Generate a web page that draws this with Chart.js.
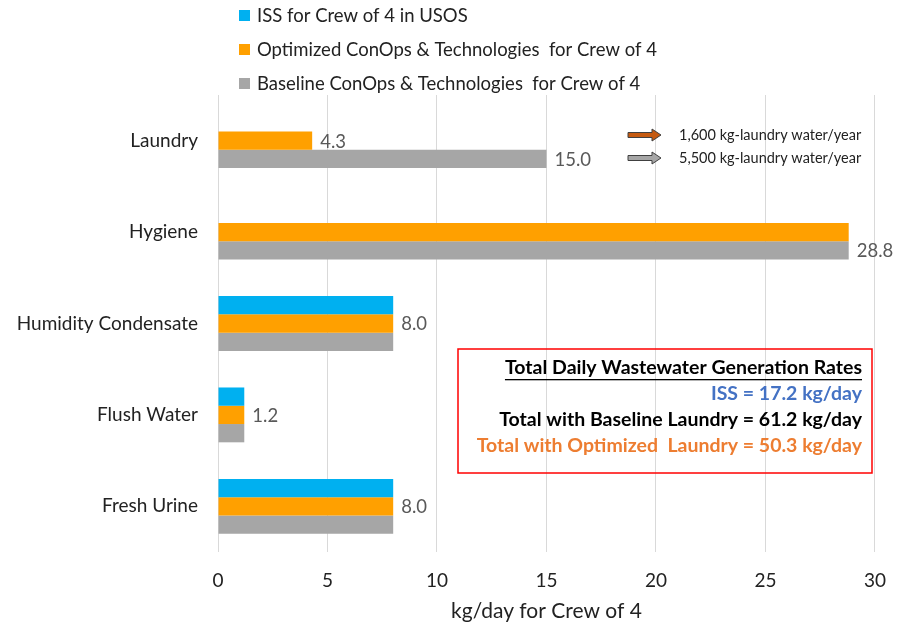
<!DOCTYPE html>
<html>
<head>
<meta charset="utf-8">
<script src="https://cdn.jsdelivr.net/npm/chart.js@4.4.0/dist/chart.umd.min.js"></script>
<style>
  body { margin: 0; background: #fff; }
  #wrap { width: 903px; height: 628px; position: relative; }
</style>
</head>
<body>
<div id="wrap"><canvas id="myChart"></canvas></div>
<script>
var categories = ['Laundry', 'Hygiene', 'Humidity Condensate', 'Flush Water', 'Fresh Urine'];
var issValues = [null, null, 8.0, 1.2, 8.0];
var optimizedValues = [4.3, 28.8, 8.0, 1.2, 8.0];
var baselineValues = [15.0, 28.8, 8.0, 1.2, 8.0];
var seriesNames = ['ISS for Crew of 4 in USOS', 'Optimized ConOps & Technologies  for Crew of 4', 'Baseline ConOps & Technologies  for Crew of 4'];
var xTicks = [0, 5, 10, 15, 20, 25, 30];
// which bars get a value label: [dataset index, category index]
var labelled = [[1, 0], [2, 0], [2, 1], [1, 2], [1, 3], [1, 4]];
var arrowNotes = ['1,600 kg-laundry water/year', '5,500 kg-laundry water/year'];
var totals = ['Total Daily Wastewater Generation Rates', 'ISS = 17.2 kg/day', 'Total with Baseline Laundry = 61.2 kg/day', 'Total with Optimized  Laundry = 50.3 kg/day'];

var font = 'Lato, "Open Sans", sans-serif';

var extras = {
  id: 'extras',
  afterDraw: function(chart) {
    var c = chart.ctx;
    c.save();
    // legend
    c.font = '18.5px ' + font;
    c.textBaseline = 'middle';
    c.textAlign = 'left';
    chart.data.datasets.forEach(function(ds, i) {
      var y = 16 + i * 34;
      c.fillStyle = ds.backgroundColor;
      c.fillRect(239, y - 6, 11, 11);
      c.fillStyle = '#222';
      c.fillText(ds.label, 257, y);
    });
    // value labels
    c.fillStyle = '#595959';
    c.font = '18.5px ' + font;
    labelled.forEach(function(p) {
      var el = chart.getDatasetMeta(p[0]).data[p[1]];
      var v = chart.data.datasets[p[0]].data[p[1]];
      c.fillText(v.toFixed(1), el.x + 8, el.y + 1);
    });
    // arrows
    var arrowCols = ['#c55a11', '#a6a6a6'];
    arrowNotes.forEach(function(t, i) {
      var y = 135 + i * 23;
      c.beginPath();
      c.moveTo(628, y - 2.5); c.lineTo(652, y - 2.5); c.lineTo(652, y - 6);
      c.lineTo(661, y); c.lineTo(652, y + 6); c.lineTo(652, y + 2.5);
      c.lineTo(628, y + 2.5); c.closePath();
      c.fillStyle = arrowCols[i];
      c.fill();
      c.strokeStyle = '#404040';
      c.lineWidth = 1;
      c.stroke();
      c.fillStyle = '#222';
      c.font = '14.5px ' + font;
      c.textAlign = 'left';
      c.fillText(t, 679, y);
    });
    // totals box
    c.strokeStyle = '#ff0000';
    c.lineWidth = 1.5;
    c.strokeRect(458, 349, 414, 124);
    var cols = ['#000', '#4472c4', '#000', '#ed7d31'];
    c.textAlign = 'right';
    c.font = 'bold 19.5px ' + font;
    totals.forEach(function(t, i) {
      var y = 368 + i * 26;
      c.fillStyle = cols[i];
      c.fillText(t, 862, y);
      if (i === 0) {
        var w = c.measureText(t).width;
        c.fillRect(862 - w, y + 11, w, 1.3);
      }
    });
    c.restore();
  }
};

var config = {
  type: 'bar',
  data: {
    labels: categories,
    datasets: [
      { label: seriesNames[0], data: issValues, backgroundColor: '#00b0f0' },
      { label: seriesNames[1], data: optimizedValues, backgroundColor: '#ffa000' },
      { label: seriesNames[2], data: baselineValues, backgroundColor: '#a6a6a6' }
    ]
  },
  options: {
    indexAxis: 'y',
    responsive: true,
    maintainAspectRatio: false,
    animation: false,
    barPercentage: 1,
    categoryPercentage: 0.6,
    skipNull: false,
    layout: { padding: { top: 95, right: 23, left: 0, bottom: 0 } },
    plugins: { legend: { display: false }, tooltip: { enabled: false } },
    scales: {
      x: {
        min: 0, max: 30,
        afterBuildTicks: function(s) { s.ticks = xTicks.map(function(v) { return { value: v }; }); },
        afterFit: function(s) { s.height = 76; },
        grid: { color: '#d9d9d9', drawTicks: false },
        border: { display: false },
        ticks: { padding: 17, color: '#222', font: { family: font, size: 19 } },
        title: { display: true, text: 'kg/day for Crew of 4', color: '#222', padding: { top: 0, bottom: 4 }, font: { family: font, size: 21 } }
      },
      y: {
        afterFit: function(s) { s.width = 218; },
        grid: { display: false, drawTicks: false },
        border: { display: false },
        ticks: { padding: 20, color: '#222', font: { family: font, size: 19 } }
      }
    }
  },
  plugins: [extras]
};

var ctx = document.getElementById('myChart').getContext('2d');
window.myChart = new Chart(ctx, config);
</script>
</body>
</html>
